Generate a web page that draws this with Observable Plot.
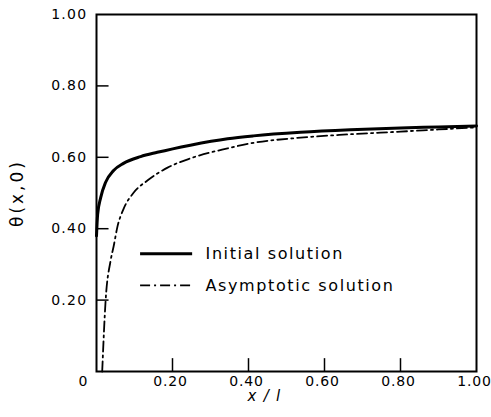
<!DOCTYPE html>
<html>
<head>
<meta charset="utf-8">
<script src="https://cdn.jsdelivr.net/npm/d3@7"></script>
<script src="https://cdn.jsdelivr.net/npm/@observablehq/plot@0.6"></script>
<style>
  html, body { margin: 0; padding: 0; background: #fff; }
  svg { display: block; }
</style>
</head>
<body>
<div id="chart"></div>
<script>
// ---- data ----
const xTicks = [0.2, 0.4, 0.6, 0.8, 1.0];
const yTicks = [0.2, 0.4, 0.6, 0.8, 1.0];
const xTickLabels = ["0.20", "0.40", "0.60", "0.80", "1.00"];
const yTickLabels = ["0.20", "0.40", "0.60", "0.80", "1.00"];

const initialX = [0, 0.003, 0.011, 0.024, 0.045, 0.071, 0.116, 0.16, 0.247, 0.345, 0.413, 0.537, 0.668, 0.8, 0.9, 1.0];
const initialY = [0.38, 0.44, 0.487, 0.53, 0.563, 0.583, 0.602, 0.614, 0.634, 0.652, 0.66, 0.67, 0.677, 0.682, 0.685, 0.688];

const asymX = [0.015, 0.024, 0.037, 0.045, 0.055, 0.071, 0.097, 0.134, 0.187, 0.247, 0.345, 0.405, 0.537, 0.66, 0.8, 0.9, 1.0];
const asymY = [0, 0.199, 0.31, 0.35, 0.405, 0.455, 0.50, 0.535, 0.571, 0.597, 0.625, 0.639, 0.655, 0.664, 0.672, 0.678, 0.684];

const seriesNames = ["Initial solution", "Asymptotic solution"];
const xLabel = "x / l";
const yLabel = "θ(x,0)";

// ---- build ----
const initial = initialX.map((x, i) => ({x, y: initialY[i]}));
const asym = asymX.map((x, i) => ({x, y: asymY[i]}));
const legend = [
  {name: seriesNames[0], y: 0.33},
  {name: seriesNames[1], y: 0.241}
];

const font = "'DejaVu Sans', sans-serif";

const plot = Plot.plot({
  width: 491,
  height: 417,
  marginLeft: 96,
  marginRight: 15,
  marginTop: 14,
  marginBottom: 46,
  style: {fontFamily: font, fontSize: "14px", color: "#000", background: "#fff"},
  x: {domain: [0, 1]},
  y: {domain: [0, 1]},
  marks: [
    Plot.frame({stroke: "#000", strokeWidth: 2}),
    // inward ticks
    Plot.ruleX(xTicks.filter(d => d < 1), {y1: 0, y2: 0.036, stroke: "#000", strokeWidth: 1.5}),
    Plot.ruleY(yTicks.filter(d => d < 1), {x1: 0, x2: 0.033, stroke: "#000", strokeWidth: 1.5}),
    Plot.axisX(xTicks, {tickSize: 0, tickPadding: 5, dx: -2, tickFormat: (d, i) => xTickLabels[i], label: null, fontSize: 14, className: "xt"}),
    Plot.axisY(yTicks, {tickSize: 0, tickPadding: 9, tickFormat: (d, i) => yTickLabels[i], label: null, fontSize: 14}),
    Plot.text(["0"], {frameAnchor: "bottom-left", dx: -18, dy: 14, fontSize: 14}),
    Plot.text([xLabel], {frameAnchor: "bottom", dx: -22, dy: 29, fontSize: 15, fontStyle: "italic"}),
    Plot.text([yLabel], {frameAnchor: "left", textAnchor: "middle", dx: -79, dy: 0, rotate: -90, fontSize: 17, className: "ylab"}),
    // curves
    Plot.line(initial, {x: "x", y: "y", stroke: "#000", strokeWidth: 3, curve: "monotone-x"}),
    Plot.line(asym, {x: "x", y: "y", stroke: "#000", strokeWidth: 1.8, strokeDasharray: "10,4,2,4", curve: "monotone-x"}),
    // legend
    Plot.ruleY([legend[0]], {y: "y", x1: 0.116, x2: 0.253, stroke: "#000", strokeWidth: 3}),
    Plot.ruleY([legend[1]], {y: "y", x1: 0.116, x2: 0.253, stroke: "#000", strokeWidth: 1.8, strokeDasharray: "10,4,2,4"}),
    Plot.text(legend, {x: 0.287, y: "y", text: "name", textAnchor: "start", fontSize: 16, className: "leg"})
  ]
});

plot.querySelectorAll("text").forEach(t => t.setAttribute("letter-spacing", "1.3"));
plot.querySelectorAll(".xt text").forEach(t => t.setAttribute("letter-spacing", "0.8"));
plot.querySelectorAll(".leg text").forEach(t => t.setAttribute("letter-spacing", "1.6"));
plot.querySelectorAll(".ylab text").forEach(t => t.setAttribute("letter-spacing", "3"));
document.getElementById("chart").appendChild(plot);
</script>
</body>
</html>
